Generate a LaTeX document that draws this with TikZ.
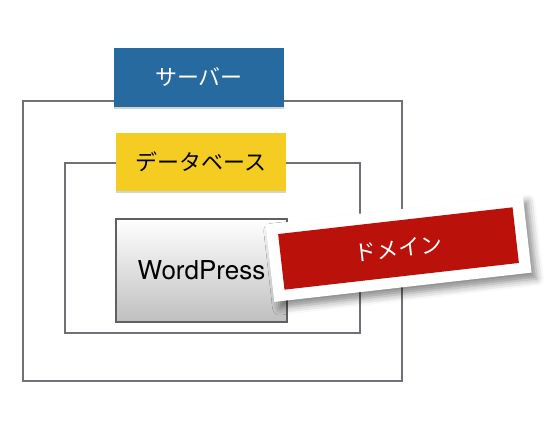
\documentclass[tikz,border=0pt]{standalone}
\usepackage{fontspec}
\setmainfont{Noto Sans CJK JP}
\newfontfamily\latinfont{TeX Gyre Heros}
\usetikzlibrary{shadows,shadows.blur}
\definecolor{serverblue}{RGB}{38,106,160}
\definecolor{dbyellow}{RGB}{244,204,34}
\definecolor{domainred}{RGB}{186,18,10}
\definecolor{framegray}{RGB}{112,112,118}

\begin{document}
\begin{tikzpicture}[x=0.02cm,y=-0.02cm,line cap=round,
  frame/.style={draw=framegray,line width=1.1pt},
  labelbox/.style={minimum width=3.4cm,inner sep=0pt,font=\fontsize{12.5}{15}\selectfont,
    drop shadow={shadow xshift=0pt,shadow yshift=-1.2pt,opacity=0.35}}]
\useasboundingbox (0,0) rectangle (550,437);
% server
\draw[frame] (23,101) rectangle (402,381);
\node[labelbox,fill=serverblue,text=white,minimum height=1.18cm] (server) at (199,77.5) {サーバー};
% database
\draw[frame] (65,163) rectangle (360,333);
\node[labelbox,fill=dbyellow,text=black,minimum height=1.16cm] (db) at (201,162) {データベース};
% wordpress
\node[draw=framegray!85!black,line width=1.1pt,top color=white,bottom color=black!25,
  minimum width=3.42cm,minimum height=2.06cm,inner sep=0pt,
  drop shadow={shadow xshift=0.6pt,shadow yshift=-0.8pt,opacity=0.3},
  font=\latinfont\fontsize{14.8}{17}\selectfont] (wp) at (201.5,270.5) {WordPress};
% domain
\node[fill=white,rotate=6.5,minimum width=5.18cm,minimum height=1.56cm,inner sep=0pt,
  blur shadow={shadow xshift=3pt,shadow yshift=-3.5pt,shadow blur radius=4pt,shadow opacity=45}]
  (domainframe) at (398.5,248.5) {};
\node[fill=domainred,text=white,rotate=6.5,minimum width=4.72cm,minimum height=1.12cm,inner sep=0pt,
  font=\fontsize{12.5}{15}\selectfont] (domain) at (domainframe.center) {ドメイン};
\end{tikzpicture}
\end{document}
